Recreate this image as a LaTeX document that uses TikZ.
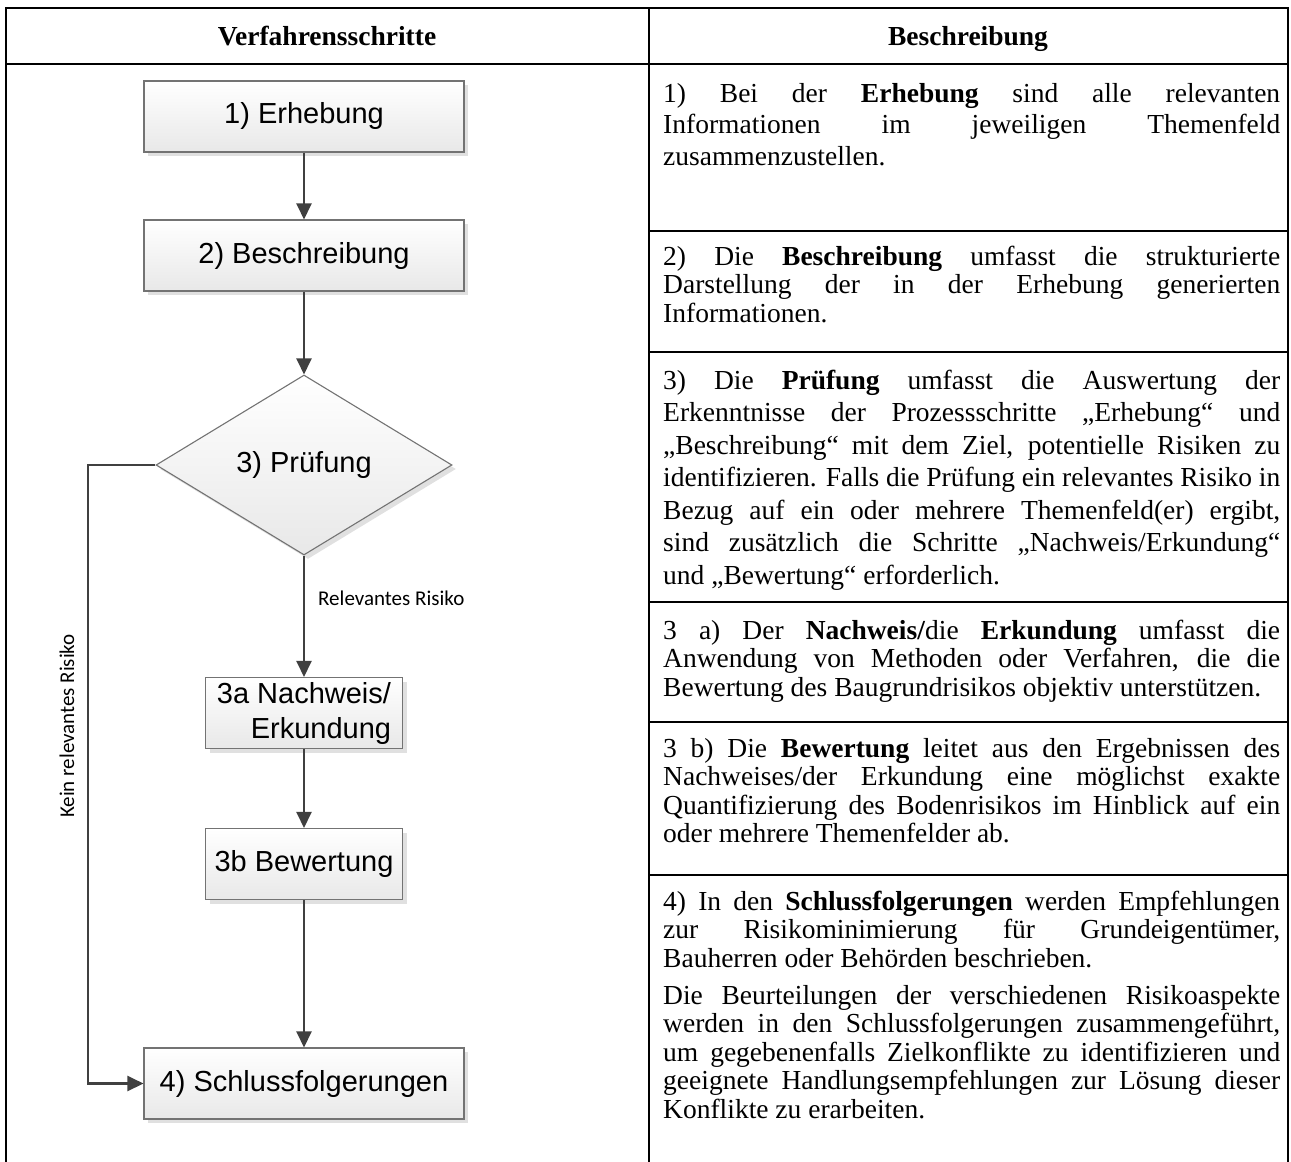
\documentclass[tikz,border=0pt]{standalone}
\usepackage{fontspec}
\setmainfont{Liberation Serif}
\newfontfamily\flowfont{Liberation Sans}
\newfontfamily\notefont{Carlito}
\usetikzlibrary{arrows.meta,shapes.geometric,shadows}
\tolerance=9999
\hyphenpenalty=10000

\begin{document}
\begin{tikzpicture}[x=1pt,y=-1pt,
  rule/.style={line width=2.6pt},
  stepbox/.style={draw=black!55,line width=1.1pt,top color=white,bottom color=black!9,
    drop shadow={shadow xshift=4pt,shadow yshift=-4pt,fill=black!12,opacity=1},
    font=\flowfont\fontsize{29}{35}\selectfont,inner sep=4pt,minimum height=71pt},
  widebox/.style={stepbox,minimum width=320pt},
  smallbox/.style={stepbox,minimum width=197pt},
  decision/.style={stepbox,diamond,aspect=1.64,inner sep=0pt,minimum width=296pt,minimum height=180pt},
  flow/.style={draw=black!75,line width=2.4pt,-{Triangle[length=16pt,width=15pt]}},
  note/.style={font=\notefont\fontsize{21}{25}\selectfont,inner sep=0pt},
  head/.style={anchor=base,inner sep=0pt,font=\bfseries\fontsize{27.5}{28.5}\selectfont},
  desc/.style={anchor=base west,inner sep=0pt,text width=617pt,align=justify,
    font=\fontsize{27.5}{#1}\selectfont},
  desc/.default=28.5]
\useasboundingbox (0,0) rectangle (1291,1162);
\draw[rule] (6,1162) -- (6,8) -- (1288,8) -- (1288,1162);
\draw[rule] (649,8) -- (649,1162);
\draw[rule] (6,64) -- (1288,64);
\foreach \y in {231,352,602,722,875} \draw[rule] (649,\y) -- (1288,\y);
\node[head] (hleft) at (327,45) {Verfahrensschritte};
\node[head] (hright) at (968,45) {Beschreibung};
\node[widebox] (s1) at (304,116.5) {1) Erhebung};
\node[widebox] (s2) at (304,255.5) {2) Beschreibung};
\node[decision] (s3) at (304,465) {3) Prüfung};
\node[smallbox,align=right] (s3a) at (304,713) {3a Nachweis/\\Erkundung};
\node[smallbox] (s3b) at (304,864) {3b Bewertung};
\node[widebox] (s4) at (304,1083.5) {4) Schlussfolgerungen};
\coordinate (bend) at (88,465);
\draw[flow] (s1) -- (s2);
\draw[flow] (s2) -- (s3);
\draw[flow] (s3) -- node[note,pos=0.35,anchor=west,xshift=13pt] (rel) {Relevantes Risiko} (s3a);
\draw[flow] (s3a) -- (s3b);
\draw[flow] (s3b) -- (s4);
\draw[flow] (s3.west) -- (bend) |- (s4.west);
\node[note,rotate=90] (kein) at (67,726) {Kein relevantes Risiko};
\node[desc=31.5] (t1) at (663,102) {1) Bei der \textbf{Erhebung} sind alle relevanten\linebreak Informationen im jeweiligen Themenfeld\linebreak zusammenzustellen.};
\node[desc] (t2) at (663,265) {2) Die \textbf{Beschreibung} umfasst die strukturierte\linebreak Darstellung der in der Erhebung generierten\linebreak Informationen.};
\node[desc=32.5] (t3) at (663,389) {3) Die \textbf{Prüfung} umfasst die Auswertung der\linebreak Erkenntnisse der Prozessschritte „Erhebung“ und\linebreak „Beschreibung“ mit dem Ziel, potentielle Risiken zu\linebreak identifizieren. Falls die Prüfung ein relevantes Risiko in\linebreak Bezug auf ein oder mehrere Themenfeld(er) ergibt,\linebreak sind zusätzlich die Schritte „Nachweis/Erkundung“\linebreak und „Bewertung“ erforderlich.};
\node[desc] (t3a) at (663,639) {3 a) Der \textbf{Nachweis/}die \textbf{Erkundung} umfasst die\linebreak Anwendung von Methoden oder Verfahren, die die\linebreak Bewertung des Baugrundrisikos objektiv unterstützen.};
\node[desc] (t3b) at (663,757) {3 b) Die \textbf{Bewertung} leitet aus den Ergebnissen des\linebreak Nachweises/der Erkundung eine möglichst exakte\linebreak Quantifizierung des Bodenrisikos im Hinblick auf ein\linebreak oder mehrere Themenfelder ab.};
\node[desc] (t4) at (663,910) {4) In den \textbf{Schlussfolgerungen} werden Empfehlungen\linebreak zur Risikominimierung für Grundeigentümer,\linebreak Bauherren oder Behörden beschrieben.\par\vspace{8.5pt}Die Beurteilungen der verschiedenen Risikoaspekte\linebreak werden in den Schlussfolgerungen zusammengeführt,\linebreak um gegebenenfalls Zielkonflikte zu identifizieren und\linebreak geeignete Handlungsempfehlungen zur Lösung dieser\linebreak Konflikte zu erarbeiten.};
\end{tikzpicture}
\end{document}
